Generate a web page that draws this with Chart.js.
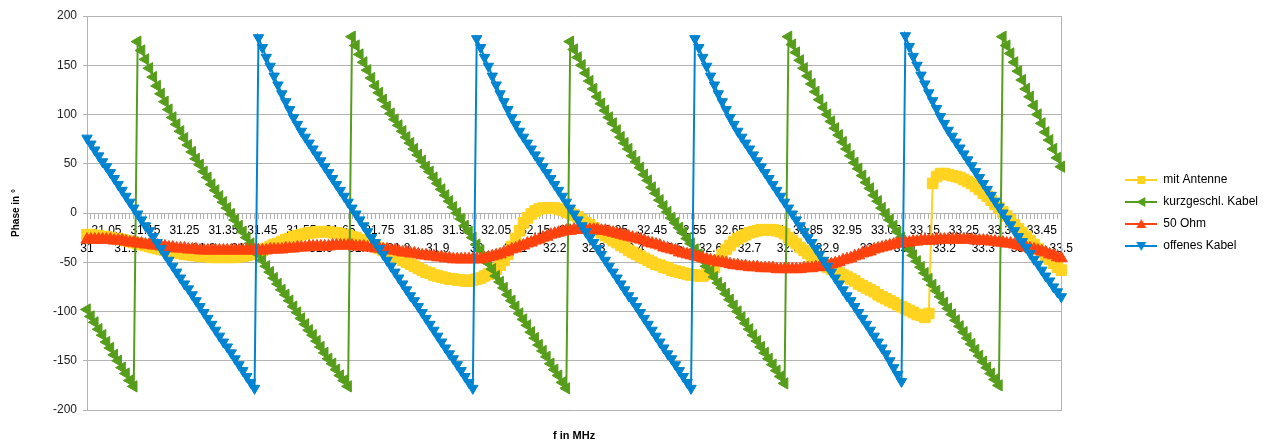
<!DOCTYPE html>
<html>
<head>
<meta charset="utf-8">
<title>Phase in °</title>
<script src="https://cdn.jsdelivr.net/npm/chart.js@4.4.1/dist/chart.umd.min.js"></script>
<style>
  html, body { margin: 0; padding: 0; background: #fff; }
</style>
</head>
<body>
<canvas id="phase-chart" width="1271" height="447"></canvas>
<script>
// Frequenzen (MHz)
const freq = [
  31,31.01,31.02,31.03,31.04,31.05,31.06,31.07,31.08,31.09,
  31.1,31.11,31.12,31.13,31.14,31.15,31.16,31.17,31.18,31.19,
  31.2,31.21,31.22,31.23,31.24,31.25,31.26,31.27,31.28,31.29,
  31.3,31.31,31.32,31.33,31.34,31.35,31.36,31.37,31.38,31.39,
  31.4,31.41,31.42,31.43,31.44,31.45,31.46,31.47,31.48,31.49,
  31.5,31.51,31.52,31.53,31.54,31.55,31.56,31.57,31.58,31.59,
  31.6,31.61,31.62,31.63,31.64,31.65,31.66,31.67,31.68,31.69,
  31.7,31.71,31.72,31.73,31.74,31.75,31.76,31.77,31.78,31.79,
  31.8,31.81,31.82,31.83,31.84,31.85,31.86,31.87,31.88,31.89,
  31.9,31.91,31.92,31.93,31.94,31.95,31.96,31.97,31.98,31.99,
  32,32.01,32.02,32.03,32.04,32.05,32.06,32.07,32.08,32.09,
  32.1,32.11,32.12,32.13,32.14,32.15,32.16,32.17,32.18,32.19,
  32.2,32.21,32.22,32.23,32.24,32.25,32.26,32.27,32.28,32.29,
  32.3,32.31,32.32,32.33,32.34,32.35,32.36,32.37,32.38,32.39,
  32.4,32.41,32.42,32.43,32.44,32.45,32.46,32.47,32.48,32.49,
  32.5,32.51,32.52,32.53,32.54,32.55,32.56,32.57,32.58,32.59,
  32.6,32.61,32.62,32.63,32.64,32.65,32.66,32.67,32.68,32.69,
  32.7,32.71,32.72,32.73,32.74,32.75,32.76,32.77,32.78,32.79,
  32.8,32.81,32.82,32.83,32.84,32.85,32.86,32.87,32.88,32.89,
  32.9,32.91,32.92,32.93,32.94,32.95,32.96,32.97,32.98,32.99,
  33,33.01,33.02,33.03,33.04,33.05,33.06,33.07,33.08,33.09,
  33.1,33.11,33.12,33.13,33.14,33.15,33.16,33.17,33.18,33.19,
  33.2,33.21,33.22,33.23,33.24,33.25,33.26,33.27,33.28,33.29,
  33.3,33.31,33.32,33.33,33.34,33.35,33.36,33.37,33.38,33.39,
  33.4,33.41,33.42,33.43,33.44,33.45,33.46,33.47,33.48,33.49,
  33.5
];

// Phase in Grad
const mitAntenne = [
  -22,-22,-23,-23,-24, -24,-25,-26,-26,-27, -28,-29,-30,-31,-32, -33,-34,-35,-36,-37,
  -38,-39,-40,-40,-41, -42,-42,-43,-43,-44, -44,-44,-45,-45,-45, -45,-45,-45,-45,-44,
  -44,-43,-42,-41,-40, -38,-36,-34,-32,-31, -29,-27,-26,-24,-23, -22,-21,-20,-20,-19,
  -19,-19,-19,-20,-20, -21,-22,-23,-24,-25, -27,-29,-30,-32,-34, -36,-38,-40,-42,-44,
  -46,-48,-50,-52,-54, -56,-58,-60,-61,-63, -64,-65,-66,-67,-67, -68,-68,-69,-69,-68,
  -67,-66,-64,-62,-60, -57,-53,-48,-42,-34, -26,-18,-10,-5,-1, 2,4,5,5,5,
  5,4,3,1,0, -2,-4,-7,-10,-12, -15,-18,-20,-23,-25, -28,-30,-33,-35,-38,
  -40,-42,-44,-46,-48, -50,-52,-53,-55,-56, -58,-59,-60,-61,-62, -63,-63,-64,-64,-62,
  -60,-55,-48,-42,-37, -33,-29,-26,-24,-22, -20,-19,-18,-17,-17, -17,-17,-18,-19,-21,
  -25,-28,-31,-35,-38, -41,-44,-47,-50,-52, -55,-57,-59,-61,-63, -65,-67,-69,-72,-74,
  -76,-78,-80,-83,-85, -87,-89,-91,-93,-95, -97,-99,-101,-103,-104, -106,-102,30,37,40,
  40,39,38,37,36, 34,32,30,27,24, 20,17,13,9,5, 1,-3,-7,-12,-16,
  -20,-24,-28,-32,-36, -40,-44,-47,-51,-55, -58
];

const kurzgeschlKabel = [
  -98,-105,-111,-118,-124,-131,-137,-144,-150,-157,-163,-170,-176,
  174,165,156,147,138,129,121,113,105,97, 90,83,76,69,62,55,49,42,36,29,
  23,17,11,5,-1,-7,-13,-19,-25,-31, -37,-42,-48,-54,-60,-66,-72,-78,-83,-89,
  -95,-101,-107,-113,-119,-124,-130,-136,-142,-148, -153,-159,-165,-170,-176,
  179,170,161,153,145,137,129,122,115,108, 101,95,89,83,77,71,65,59,53,47,
  42,36,30,24,18,12,6,0,-6,-13, -19,-25,-32,-38,-45,-51,-57,-64,-70,-76,
  -83,-89,-95,-102,-108,-114,-121,-127,-134,-140, -146,-153,-159,-165,-172,-178,
  174,166,158,150,142,134,126,118,111,104, 97,91,84,77,71,65,58,52,46,39,
  33,26,20,13,7,1,-5,-10,-15,-20, -26,-31,-37,-42,-48,-54,-59,-65,-71,-76,
  -82,-88,-94,-100,-106,-112,-118,-124,-130,-136, -142,-148,-154,-160,-166,-173,
  179,171,163,155,147,139,131,123,115,107, 100,93,86,79,72,65,58,51,45,38,
  31,25,18,12,5,-1,-7,-13,-19,-25, -31,-37,-43,-49,-55,-61,-67,-73,-79,-85,
  -91,-97,-103,-109,-115,-121,-127,-133,-139,-145, -151,-157,-163,-169,-175,
  179,170,162,153,144,135,126,118,109,100,91,82,74,65,56,47
];

const ohm50 = [
  -27,-27,-27,-27,-27,-27, -27,-28,-28,-28,-29, -30,-30,-31,-31,-32, -32,-33,-33,-34,-34,
  -35,-35,-36,-36,-36, -37,-37,-37,-38,-38, -38,-38,-38,-38,-38, -38,-38,-38,-38,-38,
  -38,-38,-38,-38,-38, -38,-37,-37,-37,-37, -36,-36,-36,-35,-35, -35,-34,-34,-34,-34,
  -34,-34,-33,-33,-33, -33,-33,-33,-34,-34, -34,-35,-35,-36,-36, -37,-37,-38,-38,-39,
  -40,-40,-41,-41,-42, -43,-43,-44,-44,-45, -45,-46,-46,-47,-47, -47,-47,-47,-47,-47,
  -47,-46,-45,-44,-43, -42,-40,-39,-37,-36, -34,-33,-31,-30,-28, -27,-25,-24,-22,-21,
  -20,-19,-18,-18,-17, -17,-17,-17,-17,-17, -17,-18,-18,-19,-20, -21,-22,-23,-24,-25,
  -26,-27,-28,-30,-31, -32,-33,-35,-36,-37, -38,-40,-41,-42,-43, -44,-45,-46,-47,-48,
  -49,-50,-50,-51,-52, -53,-53,-54,-54,-55, -55,-55,-56,-56,-56, -56,-57,-57,-57,-57,
  -57,-57,-57,-56,-56, -56,-55,-55,-54,-53, -52,-51,-50,-48,-47, -46,-44,-43,-41,-40,
  -39,-37,-36,-35,-34, -33,-32,-31,-31,-30, -30,-29,-29,-28,-28, -28,-28,-27,-27,-27,
  -27,-27,-27,-27,-27, -27,-27,-28,-28,-28, -28,-29,-29,-30,-30, -31,-31,-32,-33,-34,
  -35,-36,-37,-38,-39, -40,-42,-43,-45,-46
];

const offenesKabel = [
  76,70,64,58,52,47,41,35,29,23,17,11,5,-1,-7,-13,-18,-24,-30,-36,-42,-48,-54,-60,
  -66,-72,-77,-83,-89,-95,-101,-107,-113,-119,-125,-131,-136,-142,-148,-154,-160,-166,-172,-178,
  178,168,158,149,139,130,121,113,105,97, 90,83,77,71,65,59,53,47,41,35,
  29,23,17,11,5,-1,-7,-13,-19,-25, -30,-36,-42,-48,-54,-60,-66,-72,-78,-84,
  -89,-95,-101,-107,-113,-119,-125,-131,-137,-143, -148,-154,-160,-166,-172,-178,
  177,168,158,149,139,130,121,113,105,97, 90,83,77,71,65,59,53,47,41,35,
  29,23,17,11,5,-1,-7,-13,-19,-25, -30,-36,-42,-48,-54,-60,-66,-72,-78,-84,
  -89,-95,-101,-107,-113,-119,-125,-131,-137,-143, -148,-154,-160,-166,-172,-178,
  177,168,158,149,139,130,121,113,105,97, 90,83,77,71,65,59,53,47,41,35,
  29,23,17,11,5,-1,-7,-13,-19,-25, -30,-36,-42,-48,-54,-60,-66,-72,-78,-84,
  -89,-95,-101,-107,-113,-119,-125,-131,-137,-143, -150,-157,-164,-171,
  180,169,159,150,140,131,122,114,106,98, 91,84,78,72,66,60,54,48,42,36,
  30,24,18,12,6,0,-6,-12,-18,-24, -29,-35,-41,-47,-52,-58,-64,-69,-75,-80,
  -85
];

const yTicks = [-200, -150, -100, -50, 0, 50, 100, 150, 200];

const GELB = '#FFD320';
const GRUEN = '#579D1C';
const ROT = '#FF420E';
const BLAU = '#0084D1';
const GITTER = '#b3b3b3';

Chart.defaults.font.family = '"Liberation Sans", Arial, sans-serif';
Chart.defaults.color = '#000';

// kleines Legenden-Symbol: Linie mit Marker in der Mitte
function legendIcon(color, shape) {
  const c = document.createElement('canvas');
  c.width = 32;
  c.height = 12;
  const g = c.getContext('2d');
  g.strokeStyle = color;
  g.fillStyle = color;
  g.lineWidth = 2;
  g.beginPath();
  g.moveTo(0, 6);
  g.lineTo(32, 6);
  g.stroke();
  g.beginPath();
  if (shape === 'rect') {
    g.rect(12, 2, 8, 8);
  } else if (shape === 'up') {
    g.moveTo(16, 1); g.lineTo(21, 10); g.lineTo(11, 10);
  } else if (shape === 'down') {
    g.moveTo(11, 2); g.lineTo(21, 2); g.lineTo(16, 11);
  } else if (shape === 'left') {
    g.moveTo(11, 6); g.lineTo(20, 1); g.lineTo(20, 11);
  }
  g.closePath();
  g.fill();
  return c;
}

const icons = [
  legendIcon(GELB, 'rect'),
  legendIcon(GRUEN, 'left'),
  legendIcon(ROT, 'up'),
  legendIcon(BLAU, 'down')
];

const chart = new Chart(document.getElementById('phase-chart'), {
  type: 'line',
  data: {
    labels: freq,
    datasets: [
      {
        label: 'mit Antenne',
        data: mitAntenne,
        borderColor: GELB,
        backgroundColor: GELB,
        pointStyle: 'rect',
        pointRadius: 7.5,
        order: 4
      },
      {
        label: 'kurzgeschl. Kabel',
        data: kurzgeschlKabel,
        borderColor: GRUEN,
        backgroundColor: GRUEN,
        pointStyle: 'triangle',
        pointRotation: -90,
        pointRadius: 6.5,
        order: 3
      },
      {
        label: '50 Ohm',
        data: ohm50,
        borderColor: ROT,
        backgroundColor: ROT,
        pointStyle: 'triangle',
        pointRadius: 7,
        order: 2
      },
      {
        label: 'offenes Kabel',
        data: offenesKabel,
        borderColor: BLAU,
        backgroundColor: BLAU,
        pointStyle: 'triangle',
        pointRotation: 180,
        pointRadius: 6,
        order: 1
      }
    ]
  },
  options: {
    responsive: false,
    animation: false,
    layout: { padding: { left: 10, right: 3, top: 16, bottom: 0 } },
    elements: {
      line: { borderWidth: 2, tension: 0 },
      point: { borderWidth: 1 }
    },
    plugins: {
      tooltip: { enabled: false },
      legend: {
        position: 'right',
        fullSize: false,
        reverse: true,
        labels: {
          usePointStyle: true,
          pointStyleWidth: 32,
          padding: 10,
          color: '#000',
          font: { size: 12 },
          generateLabels: function (c) {
            const items = Chart.defaults.plugins.legend.labels.generateLabels(c);
            items.forEach(function (it) {
              it.pointStyle = icons[it.datasetIndex];
              it.rotation = 0;
            });
            return items;
          }
        }
      }
    },
    scales: {
      x: {
        type: 'category',
        position: { y: 0 },
        z: 1,
        afterFit: function (s) { s.height = 0; },
        grid: { drawOnChartArea: false, tickLength: 5, color: GITTER },
        border: { color: GITTER },
        ticks: {
          autoSkip: false,
          maxRotation: 0,
          minRotation: 0,
          padding: 4,
          color: '#000',
          font: { size: 12, lineHeight: 1.5 },
          callback: function (value, index) {
            const txt = String(this.getLabelForValue(value));
            if (index % 10 === 0) return ['', txt];
            if (index % 10 === 5) return [txt, ''];
            return '';
          }
        }
      },
      x2: {
        type: 'category',
        position: 'bottom',
        afterFit: function (s) { s.height = 37; },
        grid: { display: false },
        border: { display: false },
        ticks: { display: false },
        title: {
          display: true,
          text: 'f in MHz',
          color: '#000',
          font: { size: 11, weight: 'bold' }
        }
      },
      y: {
        min: -200,
        max: 200,
        afterFit: function (s) { s.width = 77; },
        afterBuildTicks: function (s) { s.ticks = yTicks.map(function (v) { return { value: v }; }); },
        grid: { color: GITTER, tickLength: 4 },
        border: { color: GITTER },
        ticks: { padding: 6, color: '#222', font: { size: 12 } },
        title: {
          display: true,
          text: 'Phase in °',
          color: '#000',
          padding: 0,
          font: { size: 10, weight: 'bold' }
        }
      },
      y2: {
        position: 'right',
        min: -200,
        max: 200,
        afterFit: function (s) { s.width = 54; },
        grid: { display: false },
        border: { color: GITTER },
        ticks: { display: false }
      }
    }
  }
});
</script>
</body>
</html>
